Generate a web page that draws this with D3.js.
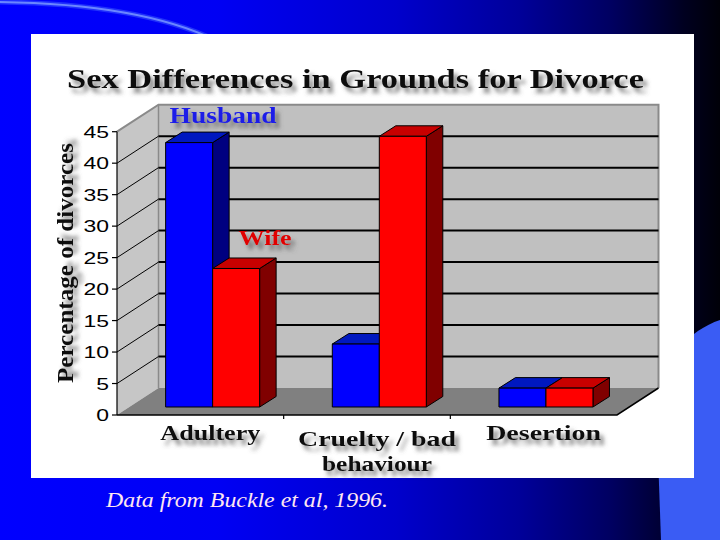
<!DOCTYPE html>
<html><head><meta charset="utf-8">
<script src="https://cdn.jsdelivr.net/npm/d3@7"></script>
<style>body{margin:0;background:#000;}svg{display:block}</style>
</head><body>
<svg id="c" width="720" height="540"></svg>
<script>
// ---- data ----
const categories = ["Adultery", "Cruelty / bad behaviour", "Desertion"];
const categoryLines = [["Adultery"], ["Cruelty / bad", "behaviour"], ["Desertion"]];
const seriesNames = ["Husband", "Wife"];
const husband = [42, 10, 3];
const wife = [22, 43, 3];
const yTicks = [0, 5, 10, 15, 20, 25, 30, 35, 40, 45];
const titleText = "Sex Differences in Grounds for Divorce";
const yTitle = "Percentage of divorces";
const caption = "Data from Buckle et al, 1996.";

const SERIF = '"Liberation Serif"';
const SANS = '"Liberation Sans"';

// ---- layout ----
const svg = d3.select("#c");
const defs = svg.append("defs");

const bg = defs.append("linearGradient").attr("id", "bg").attr("x1", 0).attr("x2", 1).attr("y1", 0).attr("y2", 0);
[[0, "#0000ff"], [0.3, "#0000f4"], [0.55, "#0000cc"], [0.72, "#00009a"], [0.85, "#000060"], [0.95, "#000020"], [1, "#000008"]]
  .forEach(([o, c]) => bg.append("stop").attr("offset", o).attr("stop-color", c));

const f = defs.append("filter").attr("id", "sh").attr("x", "-10%").attr("y", "-40%").attr("width", "130%").attr("height", "190%");
f.append("feGaussianBlur").attr("in", "SourceAlpha").attr("stdDeviation", 2).attr("result", "bl");
f.append("feOffset").attr("in", "bl").attr("dx", 4).attr("dy", 5).attr("result", "of");
f.append("feFlood").attr("flood-color", "#555").attr("flood-opacity", 0.7).attr("result", "fl");
f.append("feComposite").attr("in", "fl").attr("in2", "of").attr("operator", "in").attr("result", "shd");
const fm = f.append("feMerge");
fm.append("feMergeNode").attr("in", "shd");
fm.append("feMergeNode").attr("in", "SourceGraphic");

// slide background
svg.append("rect").attr("width", 720).attr("height", 540).attr("fill", "url(#bg)");
svg.append("path").attr("d", "M0,2 Q140,4 215,40").attr("fill", "none").attr("stroke", "#4060ff").attr("stroke-width", 5).attr("opacity", 0.5);
svg.append("path").attr("d", "M0,2 Q140,4 215,40").attr("fill", "none").attr("stroke", "#6a86ff").attr("stroke-width", 2);
svg.append("path").attr("d", "M720,320 C690,330 660,360 656,400 L661,540 L720,540 Z").attr("fill", "#3a5cf4");

// white panel
svg.append("rect").attr("x", 31).attr("y", 34).attr("width", 663).attr("height", 444).attr("fill", "#ffffff");

const X0 = 117, X1 = 617, Y0 = 415, Y45 = 131.7;
const WDX = 41.5, WDY = -27;     // wall depth
const BFX = 12.3, BFY = -8;      // bar front plane offset
const BDX = 16.5, BDY = -10.5;   // bar depth

const x = d3.scaleBand().domain(categories).range([X0, X1]);
const xs = d3.scaleBand().domain(seriesNames).range([0, x.bandwidth()]).paddingInner(0).paddingOuter(0.773);
const y = d3.scaleLinear().domain([0, 45]).range([Y0, Y45]);

const g = svg.append("g");
const yTop = y(45), yBot = y(0);
g.append("polygon").attr("points", [[X0, yBot], [X0, yTop], [X0 + WDX, yTop + WDY], [X0 + WDX, yBot + WDY]].join(" "))
  .attr("fill", "#c6c6c6");
g.append("rect").attr("x", X0 + WDX).attr("y", yTop + WDY).attr("width", X1 - X0).attr("height", yBot - yTop)
  .attr("fill", "#c0c0c0");
g.append("polygon").attr("points", [[X0, yBot], [X0 + WDX, yBot + WDY], [X1 + WDX, yBot + WDY], [X1, yBot]].join(" "))
  .attr("fill", "#808080");
g.append("path").attr("d", `M${X0},${yTop} L${X0 + WDX},${yTop + WDY} L${X1 + WDX},${yTop + WDY} L${X1 + WDX},${yBot + WDY}`)
  .attr("fill", "none").attr("stroke", "#8a8a8a").attr("stroke-width", 2);
g.append("line").attr("x1", X0 + WDX).attr("x2", X0 + WDX).attr("y1", yTop + WDY).attr("y2", yBot + WDY)
  .attr("stroke", "#8a8a8a").attr("stroke-width", 1.5);

yTicks.filter(t => t > 0 && t < 45).forEach(t => {
  const yy = y(t);
  g.append("line").attr("x1", X0).attr("y1", yy).attr("x2", X0 + WDX).attr("y2", yy + WDY)
    .attr("stroke", "#000").attr("stroke-width", 1);
  g.append("line").attr("x1", X0 + WDX).attr("y1", yy + WDY).attr("x2", X1 + WDX).attr("y2", yy + WDY)
    .attr("stroke", "#000").attr("stroke-width", 2);
});

g.append("path").attr("d", `M${X0},${yBot} L${X1},${yBot} L${X1 + WDX},${yBot + WDY}`)
  .attr("fill", "none").attr("stroke", "#000").attr("stroke-width", 1.5);

g.append("line").attr("x1", X0).attr("x2", X0).attr("y1", yTop).attr("y2", yBot).attr("stroke", "#000").attr("stroke-width", 1.2);
yTicks.forEach(t => {
  g.append("line").attr("x1", X0 - 5).attr("x2", X0).attr("y1", y(t)).attr("y2", y(t)).attr("stroke", "#000").attr("stroke-width", 1.2);
  g.append("text").style("font-family", SANS).attr("transform", `translate(${X0 - 8},${y(t) + 6}) scale(1.35,1)`)
    .attr("text-anchor", "end").style("font-size", "17px").attr("fill", "#000").text(t);
});
categories.slice(1).forEach(c => {
  g.append("line").attr("x1", x(c)).attr("x2", x(c)).attr("y1", yBot).attr("y2", yBot + 4).attr("stroke", "#000").attr("stroke-width", 1.2);
});

const colors = {
  Husband: { front: "#0000ff", top: "#0018c0", side: "#000080" },
  Wife: { front: "#ff0000", top: "#c80000", side: "#800000" }
};
const vals = { Husband: husband, Wife: wife };
categories.forEach((c, i) => {
  seriesNames.forEach(s => {
    const v = vals[s][i];
    const fx = x(c) + xs(s) + BFX, w = xs.bandwidth();
    const yT = y(v) + BFY, yB = y(0) + BFY;
    const col = colors[s];
    const bg2 = g.append("g").attr("stroke", "#000").attr("stroke-width", 1).attr("stroke-linejoin", "round");
    bg2.append("polygon").attr("points", [[fx + w, yT], [fx + w + BDX, yT + BDY], [fx + w + BDX, yB + BDY], [fx + w, yB]].join(" ")).attr("fill", col.side);
    bg2.append("polygon").attr("points", [[fx, yT], [fx + BDX, yT + BDY], [fx + w + BDX, yT + BDY], [fx + w, yT]].join(" ")).attr("fill", col.top);
    bg2.append("rect").attr("x", fx).attr("y", yT).attr("width", w).attr("height", yB - yT).attr("fill", col.front);
  });
});

function serifText(sel) {
  return sel.append("text").style("font-family", SERIF).style("font-weight", "bold").attr("lengthAdjust", "spacingAndGlyphs");
}

const c0 = categories[0];
serifText(svg).attr("x", x(c0) + xs("Husband") + BFX + 4).attr("y", y(husband[0]) + BFY - 20)
  .style("font-size", "23px").attr("fill", "#1c1ce8").attr("textLength", 107).attr("filter", "url(#sh)").text("Husband");
serifText(svg).attr("x", x(c0) + xs("Wife") + BFX + 26).attr("y", y(wife[0]) + BFY - 23)
  .style("font-size", "22px").attr("fill", "#e00000").attr("textLength", 53).attr("filter", "url(#sh)").text("Wife");

serifText(svg).attr("x", 67).attr("y", 88).style("font-size", "27px").attr("fill", "#111")
  .attr("textLength", 577).attr("filter", "url(#sh)").text(titleText);

serifText(svg).attr("transform", "translate(73,383) rotate(-90)").style("font-size", "23px").attr("fill", "#111")
  .attr("textLength", 240).attr("filter", "url(#sh)").text(yTitle);

const lineLen = { "Adultery": 100, "Cruelty / bad": 158, "behaviour": 110, "Desertion": 115 };
categories.forEach((c, i) => {
  const cx = x(c) + x.bandwidth() / 2 + 10;
  categoryLines[i].forEach((ln, j) => {
    serifText(svg).attr("x", cx).attr("y", (categoryLines[i].length > 1 ? 446 : 440) + j * 25)
      .attr("text-anchor", "middle").style("font-size", "22px")
      .attr("fill", "#111").attr("textLength", lineLen[ln]).attr("filter", "url(#sh)").text(ln);
  });
});

svg.append("text").style("font-family", SERIF).style("font-style", "italic").attr("x", 106).attr("y", 507)
  .style("font-size", "22px").attr("fill", "#ffe6f0").attr("textLength", 282).attr("lengthAdjust", "spacingAndGlyphs")
  .text(caption);
</script>
</body></html>
